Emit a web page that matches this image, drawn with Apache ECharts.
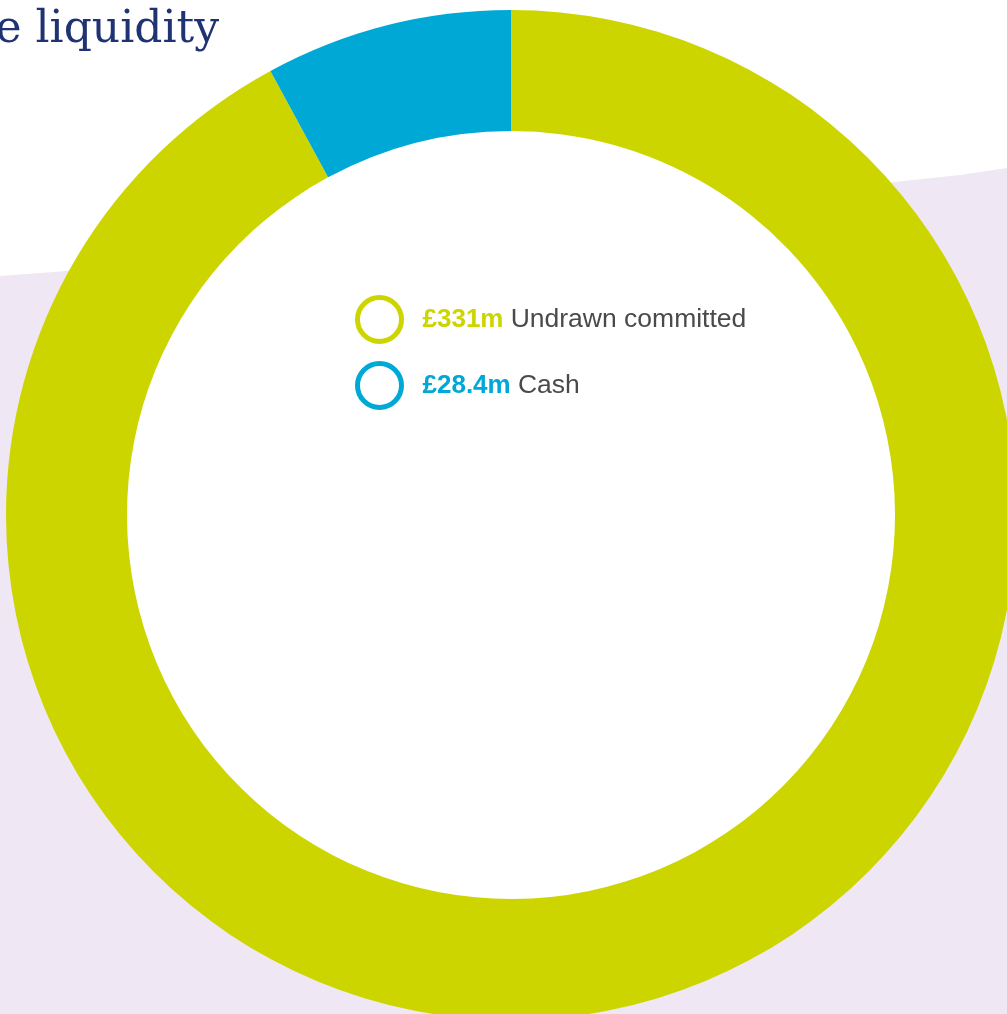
<!DOCTYPE html>
<html>
<head>
<meta charset="utf-8">
<script src="https://cdn.jsdelivr.net/npm/echarts@6/dist/echarts.min.js"></script>
<style>
html,body{margin:0;padding:0;background:#fff;}
#chart{width:1007px;height:1014px;}
</style>
</head>
<body>
<div id="chart"></div>
<script>
const categories = ['Undrawn committed', 'Cash'];
const values = [331, 28.4];
const valueLabels = ['£331m', '£28.4m'];
const colors = ['#CDD500', '#00A8D6'];
const titleText = 'Available liquidity';

const chart = echarts.init(document.getElementById('chart'), null, {renderer: 'canvas'});

const rich = {
  v0: {fontFamily: 'Liberation Sans, Arial, sans-serif', fontWeight: 'bold', fontSize: 26, color: colors[0]},
  v1: {fontFamily: 'Liberation Sans, Arial, sans-serif', fontWeight: 'bold', fontSize: 26, color: colors[1]},
  l: {fontFamily: 'Liberation Sans, Arial, sans-serif', fontSize: 26.5, color: '#4a4a4a'}
};

chart.setOption({
  animation: false,
  backgroundColor: '#ffffff',
  title: {
    text: titleText,
    right: 788,
    top: 9,
    padding: 0,
    textStyle: {fontFamily: 'DejaVu Serif, serif', fontSize: 44, fontWeight: 'normal', color: '#1F3272'}
  },
  graphic: [{
    type: 'polygon',
    z: -10,
    silent: true,
    shape: {points: [[0, 276], [60, 271.5], [960, 175], [1007, 168], [1007, 1014], [0, 1014]]},
    style: {fill: '#EFE7F4'}
  }, {
    type: 'circle',
    z: -9,
    silent: true,
    shape: {cx: 511, cy: 515, r: 385},
    style: {fill: '#ffffff'}
  }],
  legend: {
    orient: 'vertical',
    left: 350,
    top: 290,
    icon: 'circle',
    itemWidth: 76,
    itemHeight: 44,
    itemGap: 17,
    selectedMode: false,
    data: categories.map((c, i) => ({
      name: c,
      itemStyle: {color: '#ffffff', borderColor: colors[i], borderWidth: 5}
    })),
    formatter: function (name) {
      const i = categories.indexOf(name);
      return '{v' + i + '|' + valueLabels[i] + ' }{l|' + name + '}';
    },
    textStyle: {rich: rich}
  },
  series: [{
    type: 'pie',
    center: [511, 515],
    radius: [384, 505],
    startAngle: 90,
    clockwise: true,
    silent: true,
    label: {show: false},
    labelLine: {show: false},
    itemStyle: {borderWidth: 0},
    data: categories.map((c, i) => ({name: c, value: values[i], itemStyle: {color: colors[i]}}))
  }]
});
</script>
</body>
</html>
